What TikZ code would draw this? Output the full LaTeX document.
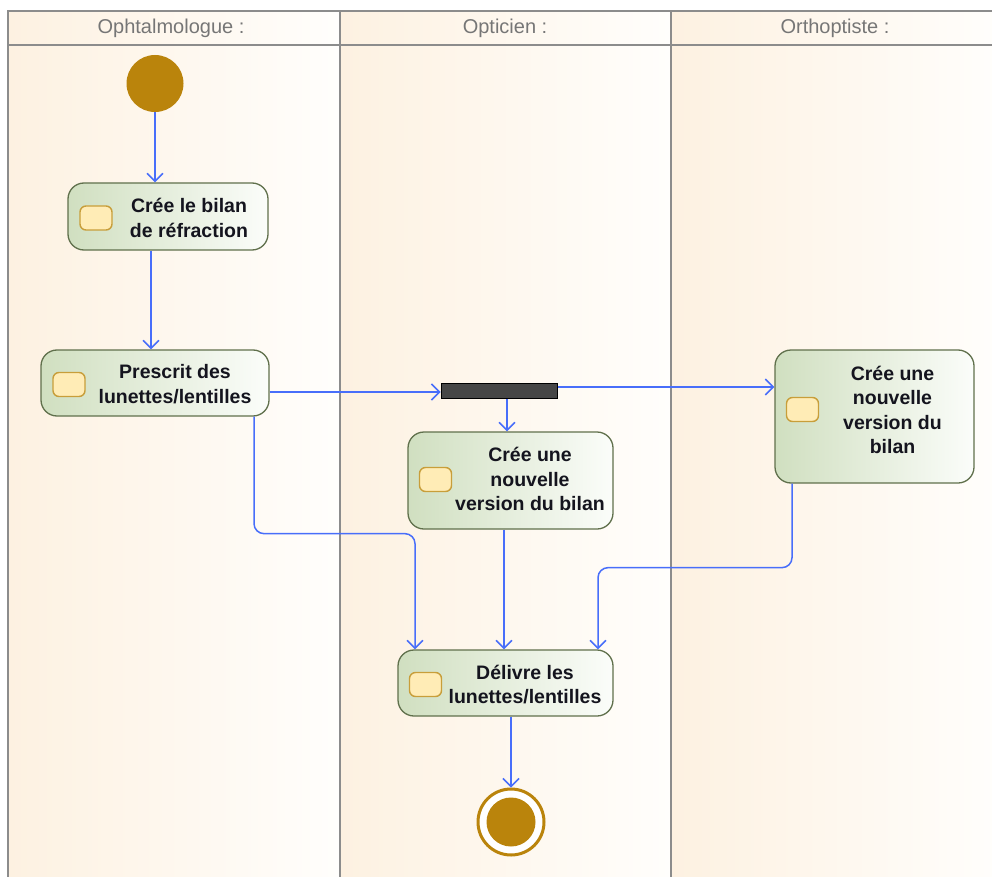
\documentclass[tikz,border=0pt]{standalone}
\usepackage{fontspec}
\setmainfont{Liberation Sans}
\usetikzlibrary{arrows.meta,calc}
\definecolor{lanel}{RGB}{253,241,225}
\definecolor{laner}{RGB}{255,254,252}
\definecolor{laneline}{RGB}{140,140,140}
\definecolor{headtext}{RGB}{118,118,118}
\definecolor{gold}{RGB}{186,132,12}
\definecolor{conn}{RGB}{72,110,250}
\definecolor{actborder}{RGB}{96,112,76}
\definecolor{actl}{RGB}{208,223,192}
\definecolor{actr}{RGB}{251,253,250}
\definecolor{iconfill}{RGB}{255,236,182}
\definecolor{iconborder}{RGB}{200,158,58}
\definecolor{barfill}{RGB}{70,70,70}
\definecolor{acttext}{RGB}{20,20,30}
\tikzset{
  lanebg/.style={left color=lanel, right color=laner, draw=none},
  laneedge/.style={draw=laneline, line width=1.5pt},
  headlabel/.style={text=headtext, font=\fontsize{20}{22}\selectfont, anchor=center},
  actbox/.style={rectangle, rounded corners=16pt, draw=actborder, line width=1.3pt,
    left color=actl, right color=actr, inner sep=0pt},
  acticon/.style={rectangle, rounded corners=6pt, draw=iconborder, line width=1.4pt,
    fill=iconfill, minimum width=32pt, minimum height=24pt, inner sep=0pt},
  acttxt/.style={align=center, text=acttext, inner sep=0pt,
    font=\fontsize{19.5}{24.5}\selectfont\bfseries},
  flow/.style={draw=conn, line width=1.5pt, -{Straight Barb[length=8pt,width=16pt]}, rounded corners=10pt},
  startnode/.style={circle, fill=gold, minimum size=57pt, inner sep=0pt},
  endring/.style={circle, draw=gold, fill=white, line width=3pt, minimum size=66pt, inner sep=0pt},
  enddot/.style={circle, fill=gold, minimum size=49pt, inner sep=0pt},
  forkbar/.style={rectangle, fill=barfill, draw=black, line width=1pt, minimum width=116pt, minimum height=15pt, inner sep=0pt}
}
\begin{document}
\begin{tikzpicture}[x=1pt,y=-1pt]
\useasboundingbox (0,0) rectangle (992,877);
\clip (0,0) rectangle (992,877);
\fill[white] (0,0) rectangle (992,877);
% lanes
\shade[lanebg] (8,11) rectangle (340,880);
\shade[lanebg] (340,11) rectangle (671,880);
\shade[lanebg] (671,11) rectangle (1002,880);
\draw[laneedge] (8,880) -- (8,11) -- (1002,11);
\draw[laneedge] (8,45) -- (1002,45);
\draw[laneedge] (340,11) -- (340,880);
\draw[laneedge] (671,11) -- (671,880);
\node[headlabel] (h1) at (171,28) {Ophtalmologue :};
\node[headlabel] (h2) at (505,28) {Opticien :};
\node[headlabel] (h3) at (835,28) {Orthoptiste :};
% start
\node[startnode] (start) at (155,83.5) {};
% activities
\node[actbox, minimum width=200pt, minimum height=67pt] (a1) at (168,216.5) {};
\node[acticon] (i1) at (96,218) {};
\node[acttxt] (t1) at (189,218) {Crée le bilan\\de réfraction};

\node[actbox, minimum width=228pt, minimum height=66pt] (a2) at (155,383) {};
\node[acticon] (i2) at (69,384.5) {};
\node[acttxt] (t2) at (175,384) {Prescrit des\\lunettes/lentilles};

\node[forkbar] (fork) at (499,390.5) {};

\node[actbox, minimum width=205pt, minimum height=97pt] (a3) at (510.5,480.5) {};
\node[acticon] (i3) at (435.5,479.5) {};
\node[acttxt] (t3) at (530,479) {Crée une\\nouvelle\\version du bilan};

\node[actbox, minimum width=199pt, minimum height=133pt] (a4) at (874.5,416.5) {};
\node[acticon] (i4) at (802.5,409.5) {};
\node[acttxt] (t4) at (892.5,410) {Crée une\\nouvelle\\version du\\bilan};

\node[actbox, minimum width=215pt, minimum height=66pt] (a5) at (505.5,683) {};
\node[acticon] (i5) at (425.5,684.5) {};
\node[acttxt] (t5) at (525,684.5) {Délivre les\\lunettes/lentilles};

% final
\node[endring] (final) at (511,822) {};
\node[enddot] (finaldot) at (511,822) {};

% connectors
\coordinate (fe) at ($(fork.east)+(0,-3.5)$);
\coordinate (fw) at ($(fork.west)+(0,1.5)$);
\draw[flow] (start.south) -- (start.south |- a1.north);
\draw[flow] ([xshift=-17pt]a1.south) -- ([xshift=-17pt]a1.south |- a2.north);
\draw[flow] (a2.east |- fw) -- (fw);
\draw[flow] (fe) -- (fe -| a4.west);
\draw[flow] ([xshift=8pt]fork.south) -- ([xshift=8pt]fork.south |- a3.north);
\draw[flow] ([xshift=99pt]a2.south) -- ++(0,117) -| ([xshift=-90.5pt]a5.north);
\draw[flow] ([xshift=-1.5pt]a5.north |- a3.south) -- ([xshift=-1.5pt]a5.north);
\draw[flow] ([xshift=-82.5pt]a4.south) -- ++(0,84) -| ([xshift=92.5pt]a5.north);
\draw[flow] (final.north |- a5.south) -- (final.north);
\end{tikzpicture}
\end{document}
